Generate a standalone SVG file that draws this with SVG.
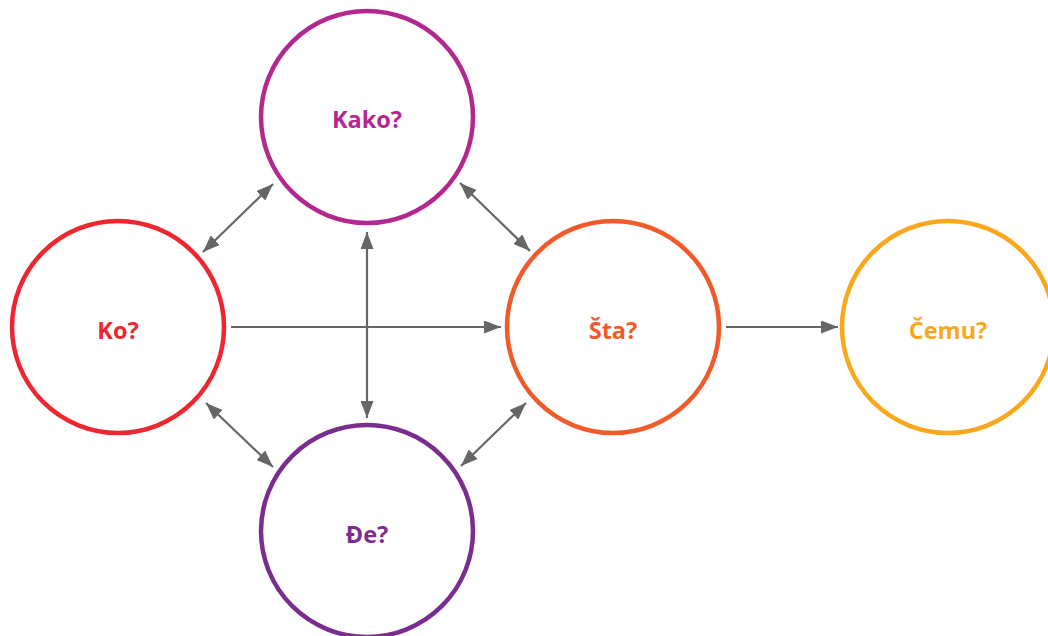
<svg xmlns="http://www.w3.org/2000/svg" width="1048" height="636" viewBox="0 0 1048 636">
<style>
.n{fill:#fff;stroke-width:4.5}
.t{font-family:"Open Sans","Liberation Sans",sans-serif;font-weight:bold;font-size:23.5px;text-anchor:middle}
.c{stroke:#666;stroke-width:2.2;fill:none}
</style>
<defs>
<marker id="ah" viewBox="0 0 17 13" refX="17" refY="6.5" markerWidth="17" markerHeight="13" markerUnits="userSpaceOnUse" orient="auto-start-reverse">
<path d="M0,0L17,6.5L0,13z" fill="#666"/>
</marker>
</defs>
<rect width="1048" height="636" fill="#fff"/>
<g id="connectors">
<line class="c" x1="273" y1="184" x2="203" y2="252" marker-start="url(#ah)" marker-end="url(#ah)"/>
<line class="c" x1="460" y1="183" x2="530" y2="251" marker-start="url(#ah)" marker-end="url(#ah)"/>
<line class="c" x1="206" y1="403" x2="273" y2="467" marker-start="url(#ah)" marker-end="url(#ah)"/>
<line class="c" x1="526" y1="403" x2="461" y2="466" marker-start="url(#ah)" marker-end="url(#ah)"/>
<line class="c" x1="367" y1="232" x2="367" y2="418" marker-start="url(#ah)" marker-end="url(#ah)"/>
<line class="c" x1="231" y1="327" x2="501" y2="327" marker-end="url(#ah)"/>
<line class="c" x1="726" y1="327" x2="838" y2="327" marker-end="url(#ah)"/>
</g>
<g id="kako">
<circle class="n" cx="367" cy="117" r="106" stroke="#B3278F"/>
<text class="t" x="367" y="128" fill="#B3278F">Kako?</text>
</g>
<g id="ko">
<circle class="n" cx="118" cy="327" r="106" stroke="#ED2630"/>
<text class="t" x="118" y="339" fill="#ED2630">Ko?</text>
</g>
<g id="sta">
<circle class="n" cx="613" cy="327" r="106" stroke="#F15A29"/>
<text class="t" x="613" y="339" fill="#F15A29">Šta?</text>
</g>
<g id="cemu">
<circle class="n" cx="948" cy="327" r="106" stroke="#F9A81B"/>
<text class="t" x="948" y="339" fill="#F9A81B">Čemu?</text>
</g>
<g id="de">
<circle class="n" cx="367" cy="531" r="106" stroke="#7B2C8F"/>
<text class="t" x="367" y="543" fill="#7B2C8F">Đe?</text>
</g>
</svg>
